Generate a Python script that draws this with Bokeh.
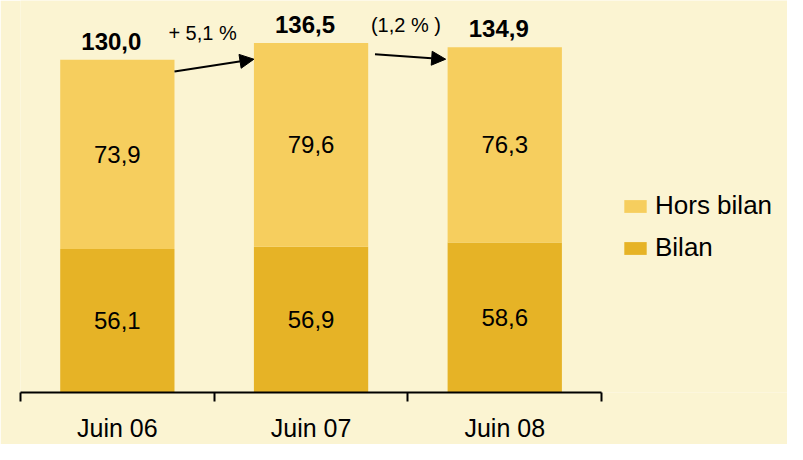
from bokeh.plotting import figure
from bokeh.models import (ColumnDataSource, Range1d, FixedTicker, Legend, LegendItem,
                          Arrow, NormalHead)
from bokeh.core.properties import value
from bokeh.embed import file_html
from bokeh.resources import INLINE

categories = ["Juin 06", "Juin 07", "Juin 08"]
bilan = [56.1, 56.9, 58.6]
hors_bilan = [73.9, 79.6, 76.3]
totals = [130.0, 136.5, 134.9]
changes = ["+ 5,1 %", "(1,2 % )"]

FONT = "Liberation Sans"
BG = "#FBF4D2"
C_TOP = "#F6CE5E"
C_BOT = "#E6B326"
BAR_W = 0.59

def fmt(v):
    return f"{v:.1f}".replace(".", ",")

xs = [i + 0.5 for i in range(len(categories))]
src = ColumnDataSource(dict(
    x=xs,
    bilan=bilan,
    hors=hors_bilan,
    total=totals,
    top_stack=[b + h for b, h in zip(bilan, hors_bilan)],
    mid_bot=[b / 2 for b in bilan],
    mid_top=[b + h / 2 for b, h in zip(bilan, hors_bilan)],
    lab_bot=[fmt(v) for v in bilan],
    lab_top=[fmt(v) for v in hors_bilan],
    lab_tot=[fmt(v) for v in totals],
))

W, H = 787, 444
LEFT = 20
BOTTOM = 50
cat_px = 193.7
px_per_unit = 2.573
frame_h = H - BOTTOM
p = figure(width=W, height=H, output_backend="svg", toolbar_location=None,
           x_range=Range1d(0, (W - LEFT) / cat_px),
           y_range=Range1d(0, frame_h / px_per_unit),
           min_border_left=LEFT, min_border_right=0, min_border_top=0,
           min_border_bottom=BOTTOM,
           background_fill_color=BG, border_fill_color=BG, outline_line_color=None)

r_bot = p.vbar(x="x", width=BAR_W, bottom=0, top="bilan", source=src,
               fill_color=C_BOT, line_color=None)
r_top = p.vbar(x="x", width=BAR_W, bottom="bilan", top="top_stack", source=src,
               fill_color=C_TOP, line_color=None)

p.text(x="x", y="mid_bot", text="lab_bot", source=src, text_align="center",
       text_baseline="middle", text_font=value(FONT), text_font_size="24px", text_color="black")
p.text(x="x", y="mid_top", text="lab_top", source=src, text_align="center",
       text_baseline="middle", text_font=value(FONT), text_font_size="24px", text_color="black")
p.text(x="x", y="total", text="lab_tot", source=src, text_align="center",
       text_baseline="bottom", y_offset=-10, x_offset=-6, text_font=value(FONT),
       text_font_size="24px", text_font_style="bold", text_color="black")

# change annotations between bars
half = BAR_W / 2
arrow_specs = [
    (xs[0] + half + 0.0, totals[0] - 4.6, xs[1] - half, totals[0] + 0.2),
    (xs[1] + half + 0.035, totals[1] - 4.4, xs[2] - half - 0.01, totals[2] - 4.7),
]
for xs0, ys0, xe, ye in arrow_specs:
    p.add_layout(Arrow(x_start=xs0, y_start=ys0, x_end=xe, y_end=ye,
                       line_color="black", line_width=2,
                       end=NormalHead(size=14, fill_color="black", line_color="black")))

chg_src = ColumnDataSource(dict(
    x=[xs[0] + 0.44, xs[1] + 0.49],
    y=[totals[0] + 10.4, totals[1] + 6.9],
    t=changes,
))
p.text(x="x", y="y", text="t", source=chg_src, text_align="center", text_baseline="middle",
       text_font=value(FONT), text_font_size="20px", text_color="black")

# axes
p.yaxis.visible = False
p.xgrid.visible = False
p.ygrid.visible = False
ax = p.xaxis[0]
ax.ticker = FixedTicker(ticks=xs, minor_ticks=list(range(len(categories) + 1)))
ax.major_label_overrides = {x: c for x, c in zip(xs, categories)}
ax.major_tick_line_color = None
ax.major_tick_out = 0
ax.major_tick_in = 0
ax.minor_tick_line_color = "black"
ax.minor_tick_line_width = 2
ax.minor_tick_out = 9
ax.minor_tick_in = 0
ax.axis_line_color = "black"
ax.axis_line_width = 2
ax.bounds = (0, len(categories))
ax.major_label_standoff = 12
ax.major_label_text_font = FONT
ax.major_label_text_font_size = "25px"
ax.major_label_text_color = "black"

legend = Legend(items=[LegendItem(label="Hors bilan", renderers=[r_top]),
                       LegendItem(label="Bilan", renderers=[r_bot])],
                location=(601, 129), orientation="vertical",
                glyph_width=28, glyph_height=16, label_standoff=6, spacing=11,
                padding=0, margin=0, border_line_color=None, background_fill_alpha=0,
                label_text_font=FONT, label_text_font_size="26px", label_text_color="black",
                label_text_baseline="middle")
p.add_layout(legend, "center")

open("out.html", "w").write(file_html(p, INLINE))
